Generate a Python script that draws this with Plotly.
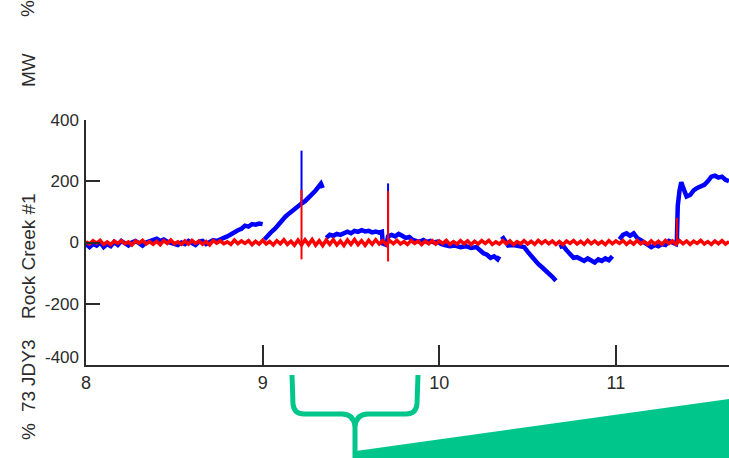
import plotly.graph_objects as go

W, H = 729, 458

# ---------------- data ----------------
X_TICKS = [8, 9, 10, 11]
Y_TICKS = [-200, 0, 200, 400]
Y_TICK_TEXT = ["-200", "0", "200", "400"]
Y_BOTTOM_LABEL = "-400"
SIDE_LABELS = ["%", "MW", "Rock Creek #1", "JDY3", "73", "%"]

BLUE_T = [8.00, 8.02, 8.04, 8.06, 8.08, 8.10, 8.12, 8.14, 8.16, 8.18, 8.20, 8.22, 8.24, 8.26, 8.28,
          8.30, 8.32, 8.34, 8.36, 8.38, 8.40, 8.42, 8.44, 8.46, 8.48, 8.50, 8.52, 8.54, 8.56, 8.58,
          8.60, 8.62, 8.64, 8.66, 8.68, 8.70, 8.72, 8.74, 8.76, 8.78, 8.80, 8.82, 8.84, 8.86, 8.88,
          8.90, 8.92, 8.94, 8.96, 8.98, 9.00, None,
          9.01, 9.03, 9.05, 9.07, 9.09, 9.11, 9.13, 9.15, 9.17, 9.19, 9.21, 9.22, 9.24,
          9.26, 9.28, 9.30, 9.32, 9.33, 9.34, None,
          9.36, 9.38, 9.40, 9.42, 9.44, 9.46, 9.48, 9.50, 9.52, 9.54, 9.56, 9.58, 9.60, 9.62, 9.64,
          9.66, 9.675, 9.68, 9.70, 9.71, 9.73, 9.75, 9.77, 9.79, 9.81, 9.83, 9.85, 9.87,
          9.89, 9.91, 9.93, 9.95, 9.97, 9.99, 10.01, 10.03, 10.06, 10.09, 10.12, 10.15, 10.18, 10.21,
          10.23, 10.25, 10.27, 10.29, 10.31, 10.33, 10.34, None,
          10.355, 10.37, 10.39, 10.42, 10.45, 10.48, 10.50, 10.52, 10.54, 10.56, 10.58, 10.60, 10.62,
          10.64, 10.66, None,
          10.68, 10.70, 10.72, 10.74, 10.76, 10.78, 10.80, 10.82, 10.84, 10.86, 10.88, 10.90, 10.92,
          10.94, 10.96, 10.98, None,
          11.02, 11.04, 11.06, 11.08, 11.10, 11.12, 11.14, 11.16, 11.18, 11.20, 11.22, 11.24, 11.26,
          11.28, 11.30, 11.32, 11.34, 11.345, 11.35, 11.36, 11.37, 11.38, 11.39, 11.40, 11.42, 11.44,
          11.46, 11.48, 11.50, 11.52, 11.54, 11.56, 11.58, 11.60, 11.62, 11.64]
BLUE_MW = [-5, -15, -5, -10, 0, -15, -5, -12, 2, -8, 5, -3, -10, 0, 5,
           -2, -10, 0, 3, 8, 12, 5, 10, 3, -2, -5, -8, 0, -5, 5,
           0, -8, 3, 5, -5, 0, 8, 5, 12, 15, 20, 28, 32, 40, 45,
           55, 52, 60, 58, 62, 60, None,
           10, 25, 35, 45, 60, 70, 85, 95, 105, 115, 122, 127, 135,
           145, 158, 170, 185, 192, 178, None,
           15, 25, 22, 28, 25, 32, 35, 30, 38, 35, 40, 36, 38, 33, 36,
           32, 35, -3, -8, 20, 25, 20, 28, 22, 15, 18, 8, 5,
           3, 8, 2, 5, 0, 3, -5, -8, -12, -10, -15, -12, -18, -15,
           -25, -35, -40, -50, -45, -55, -45, None,
           20, 5, -10, -8, -12, -15, -30, -45, -55, -70, -80, -90, -100,
           -112, -125, None,
           -15, -10, -25, -40, -50, -48, -55, -60, -52, -58, -65, -55, -60,
           -52, -58, -45, None,
           10, 25, 30, 22, 30, 15, 8, 0, -10, -15, -8, -12, -5,
           -8, 5, 0, -5, 10, 120, 170, 197, 180, 165, 150, 155, 170,
           178, 182, 188, 200, 215, 218, 212, 215, 205, 200]

# short vertical spikes in the blue series
BLUE_SPIKE_T = [9.22, 9.22, None, 9.71, 9.71]
BLUE_SPIKE_MW = [127, 300, None, 10, 193]

RED_T = [8.00, 8.02, 8.04, 8.06, 8.08, 8.10, 8.12, 8.14, 8.16, 8.18,
         8.20, 8.22, 8.24, 8.26, 8.28, 8.30, 8.32, 8.34, 8.36, 8.38,
         8.40, 8.42, 8.44, 8.46, 8.48, 8.50, 8.52, 8.54, 8.56, 8.58,
         8.60, 8.62, 8.64, 8.66, 8.68, 8.70, 8.72, 8.74, 8.76, 8.78,
         8.80, 8.82, 8.84, 8.86, 8.88, 8.90, 8.92, 8.94, 8.96, 8.98,
         9.00, 9.02, 9.04, 9.06, 9.08, 9.10, 9.12, 9.14, 9.16, 9.18,
         9.20, 9.22, 9.24, 9.26, 9.28, 9.30, 9.32, 9.34, 9.36, 9.38,
         9.40, 9.42, 9.44, 9.46, 9.48, 9.50, 9.52, 9.54, 9.56, 9.58,
         9.60, 9.62, 9.64, 9.66, 9.68, 9.70, 9.72, 9.74, 9.76, 9.78,
         9.80, 9.82, 9.84, 9.86, 9.88, 9.90, 9.92, 9.94, 9.96, 9.98,
         10.00, 10.02, 10.04, 10.06, 10.08, 10.10, 10.12, 10.14, 10.16, 10.18,
         10.20, 10.22, 10.24, 10.26, 10.28, 10.30, 10.32, 10.34, 10.36, 10.38,
         10.40, 10.42, 10.44, 10.46, 10.48, 10.50, 10.52, 10.54, 10.56, 10.58,
         10.60, 10.62, 10.64, 10.66, 10.68, 10.70, 10.72, 10.74, 10.76, 10.78,
         10.80, 10.82, 10.84, 10.86, 10.88, 10.90, 10.92, 10.94, 10.96, 10.98,
         11.00, 11.02, 11.04, 11.06, 11.08, 11.10, 11.12, 11.14, 11.16, 11.18,
         11.20, 11.22, 11.24, 11.26, 11.28, 11.30, 11.32, 11.34, 11.36, 11.38,
         11.40, 11.42, 11.44, 11.46, 11.48, 11.50, 11.52, 11.54, 11.56, 11.58,
         11.60, 11.62, 11.64]
RED_MW = [3, -5, 6, -2, 7, -6, 2, -7, 5, -3,
          6, -4, 2, -8, 5, -2, 7, -5, 3, -6,
          4, -7, 6, -3, 8, -4, 2, -6, 5, -5,
          7, -3, 4, -6, 3, -8, 6, -2, 5, -4,
          2, -6, 8, -4, 5, -3, 6, -7, 4, -5,
          7, -5, 3, -8, 6, -4, 9, -6, 4, -9,
          8, -8, 9, -7, 10, -9, 6, -10, 8, -6,
          9, -8, 5, -10, 8, -6, 10, -7, 6, -9,
          7, -6, 9, -5, 6, -7, 6, -4, 7, -5,
          3, -6, 6, -3, 5, -7, 4, -4, 6, -5,
          5, -3, 7, -6, 3, -5, 6, -4, 5, -7,
          4, -5, 6, -3, 7, -6, 2, -5, 6, -4,
          5, -7, 3, -4, 6, -5, 4, -6, 7, -3,
          6, -4, 5, -6, 3, -7, 5, -3, 6, -5,
          4, -6, 7, -4, 5, -5, 3, -7, 6, -4,
          5, -3, 6, -6, 4, -5, 7, -4, 3, -6,
          5, -5, 4, -6, 7, -3, 5, -6, 6, -4,
          5, -6, 4, -3, 7, -5, 3, -6, 5, -4,
          6, -5, 3]

# short vertical spikes in the red series
RED_SPIKE_T = [9.22, 9.22, None, 9.71, 9.71, None, 11.345, 11.345]
RED_SPIKE_MW = [-55, 172, None, -62, 168, None, 0, 80]

# ---------------- figure ----------------
TXT = "#2b2b2b"
FONT = "Arial, Liberation Sans, sans-serif"
GREEN = "#00C68B"


def fx(p):
    return p / W


def fy(p):
    return 1 - p / H


fig = go.Figure()
fig.add_trace(go.Scatter(x=BLUE_T, y=BLUE_MW, mode="lines", connectgaps=False,
                         line=dict(color="#0000FF", width=4.5), hoverinfo="skip"))
fig.add_trace(go.Scatter(x=BLUE_SPIKE_T, y=BLUE_SPIKE_MW, mode="lines", connectgaps=False,
                         line=dict(color="#0000FF", width=2), hoverinfo="skip"))
fig.add_trace(go.Scatter(x=RED_T, y=RED_MW, mode="lines",
                         line=dict(color="#FF0000", width=3.5), hoverinfo="skip"))
fig.add_trace(go.Scatter(x=RED_SPIKE_T, y=RED_SPIKE_MW, mode="lines", connectgaps=False,
                         line=dict(color="#FF0000", width=2), hoverinfo="skip"))

fig.update_layout(
    width=W, height=H,
    margin=dict(l=0, r=0, t=0, b=0, autoexpand=False),
    paper_bgcolor="white", plot_bgcolor="white",
    showlegend=False,
    font=dict(family=FONT, size=17, color=TXT),
    xaxis=dict(domain=[fx(86), 1], range=[8, 11.64], tickvals=X_TICKS,
               ticktext=[str(v) for v in X_TICKS], automargin=False,
               showgrid=False, zeroline=False, showline=True, linecolor=TXT, linewidth=1.5,
               ticks="inside", ticklen=20, tickwidth=1.5, tickcolor=TXT,
               tickfont=dict(family=FONT, size=18, color=TXT), ticklabelstandoff=1),
    yaxis=dict(domain=[fy(365), fy(120)], range=[-400, 400], tickvals=Y_TICKS, ticktext=Y_TICK_TEXT,
               automargin=False,
               showgrid=False, zeroline=False, showline=True, linecolor=TXT, linewidth=1.5,
               ticks="inside", ticklen=14, tickwidth=1.5, tickcolor=TXT,
               tickfont=dict(family=FONT, size=17, color=TXT), ticklabelstandoff=2),
)

# "-400" label (drawn slightly above the axis corner as in the original)
fig.add_annotation(x=fx(86), y=-400, xref="paper", yref="y", text=Y_BOTTOM_LABEL, showarrow=False,
                   xanchor="right", yanchor="middle", xshift=-5, yshift=8,
                   font=dict(family=FONT, size=17, color=TXT))

# rotated side labels
side_centres = [9, 70, 256, 363, 402, 432]
for txt, cy in zip(SIDE_LABELS, side_centres):
    fig.add_annotation(x=fx(28), y=fy(cy), xref="paper", yref="paper", text=txt, showarrow=False,
                       textangle=-90, xanchor="center", yanchor="middle",
                       font=dict(family=FONT, size=19, color=TXT))


def path(cmds):
    out = []
    for c in cmds:
        if isinstance(c, str):
            out.append(c)
        else:
            out.append(f"{fx(c[0]):.5f},{fy(c[1]):.5f}")
    return " ".join(out)


# green wedge
fig.add_shape(type="path", xref="paper", yref="paper", layer="above",
              path=path(["M", (356, 451), "L", (729, 399), "L", (729, 458), "L", (356, 458), "Z"]),
              fillcolor=GREEN, line=dict(width=0))

# green brace
brace = ["M", (292, 375), "L", (293, 404), "Q", (294, 414), (304, 414), "L", (342, 414),
         "Q", (354, 414), (355, 427), "L", (355, 458),
         "M", (418, 375), "L", (417, 404), "Q", (416, 414), (406, 414), "L", (368, 414),
         "Q", (356, 414), (355, 427)]
fig.add_shape(type="path", xref="paper", yref="paper", layer="above",
              path=path(brace), line=dict(color=GREEN, width=5))

fig.write_html("out.html", config={"displayModeBar": False},
               post_script="document.body.style.margin='0';document.body.style.overflow='hidden';")
